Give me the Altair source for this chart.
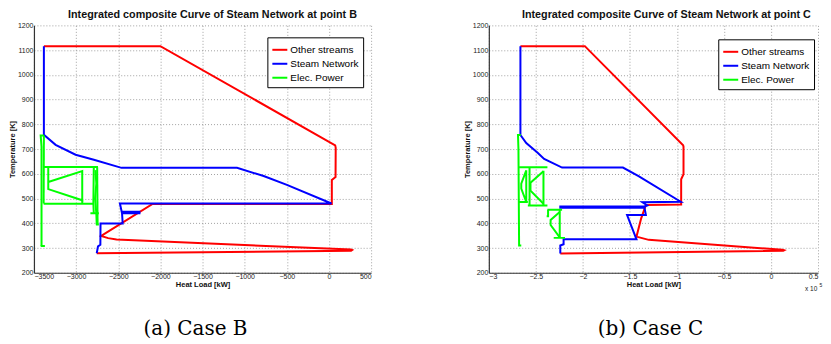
import altair as alt
import pandas as pd

SERIES = ["Other streams", "Steam Network", "Elec. Power"]
COLORS = ["#ff0000", "#0000ff", "#00ff00"]

# ---------------- Case B (Heat load in kW) ----------------
B_red_x = [-2755, 262, 275, 260, -2520, -2620, -2703, -2640, -2093, 34, 34, 78, 80, 74, -2000, -3382]
B_red_T = [279, 289, 292, 294, 334, 340, 349, 362, 478, 478, 575, 587, 705, 715, 1116, 1116]

B_blue_x = [-3382, -3382, -3243, -3006, -2789, -2461, -1091, -775, -499, 30, -2480, -2459, -2248, -2248,
            -2455, -2447, -2710, -2712, -2740, -2755]
B_blue_T = [1116, 758, 717, 677, 657, 624, 624, 591, 555, 480, 480, 447, 447, 441,
            441, 399, 399, 313, 307, 279]

B_green = [
    ([-3382, -3420, -3410, -3410], [755, 755, 710, 308]),
    ([-3420, -3370], [308, 308]),
    ([-3382, -3385], [755, 480]),
    ([-3385, -2740], [627, 627]),
    ([-3385, -2790], [479, 479]),
    ([-3330, -3330, -2927, -2927, -3330], [627, 538, 493, 611, 567]),
    ([-2927, -2927], [493, 479]),
    ([-2790, -2795, -2790], [627, 480, 441]),
    ([-2770, -2760, -2775, -2760, -2755], [615, 560, 500, 441, 395]),
    ([-2750, -2745], [627, 395]),
    ([-2830, -2730], [441, 441]),
    ([-2765, -2730], [395, 395]),
]

# ---------------- Case C (Heat load in x10^5 kW) ----------------
C_red_x = [-2.24, 0.13, 0.14, 0.12, -1.30, -1.43, -1.38, -1.33, -0.955, -0.955, -0.93, -0.93, -0.934, -1.979, -2.664]
C_red_T = [278, 289, 291, 293, 333, 346, 420, 474, 476, 578, 598, 710, 715, 1116, 1116]

C_blue_x = [-2.664, -2.664, -2.602, -2.481, -2.412, -2.221, -1.574, -1.408, -0.96, -1.367, -1.315, -1.345,
            -2.24, -2.24, -1.345, -1.33, -1.53, -1.43, -2.205, -2.205, -2.24, -2.24]
C_blue_T = [1116, 757, 724, 685, 660, 625, 625, 591, 487, 485, 472, 468,
            468, 463, 463, 433, 433, 335, 335, 315, 310, 278]

C_green = [
    ([-2.66, -2.69, -2.685, -2.678, -2.655], [757, 757, 700, 310, 310]),
    ([-2.678, -2.377], [626, 626]),
    ([-2.567, -2.567], [626, 472]),
    ([-2.602, -2.655, -2.655, -2.602, -2.602], [614, 560, 540, 486, 614]),
    ([-2.68, -2.585], [486, 486]),
    ([-2.419, -2.557, -2.557, -2.419], [610, 564, 532, 479]),
    ([-2.419, -2.419], [612, 472]),
    ([-2.585, -2.377], [472, 472]),
    ([-2.377, -2.221], [455, 455]),
    ([-2.37, -2.37, -2.385], [455, 428, 428]),
    ([-2.246, -2.246], [455, 341]),
    ([-2.246, -2.343, -2.343, -2.246], [446, 413, 393, 343]),
    ([-2.31, -2.19], [341, 341]),
]

B_ticks = list(range(-3500, 501, 500))
C_ticks = [-3, -2.5, -2, -1.5, -1, -0.5, 0, 0.5]
T_ticks = list(range(200, 1201, 100))

H = 248


def frame(segments, series):
    rows = []
    for s, (xs, ts) in enumerate(segments):
        for i, (x, t) in enumerate(zip(xs, ts)):
            rows.append({"x": x, "T": t, "seg": s, "ord": i, "series": series})
    return pd.DataFrame(rows)


def panel(title, tdx, red, blue, green, xdom, xticks, xfmt, width, lx, ly, capx, caption, exponent):
    legend = alt.Legend(orient="none", legendX=lx, legendY=ly, title=None,
                        symbolType="stroke", symbolStrokeWidth=2, symbolSize=225,
                        labelFont="Liberation Sans", labelFontSize=10, labelColor="black",
                        strokeColor="black", fillColor="white", padding=4, rowPadding=0,
                        labelOffset=2)
    xenc = alt.X("x:Q", scale=alt.Scale(domain=xdom, nice=False, zero=False),
                 axis=alt.Axis(values=xticks, format=xfmt, title="Heat Load [kW]",
                               labelPadding=0, titlePadding=1))
    yenc = alt.Y("T:Q", scale=alt.Scale(domain=[200, 1200], nice=False, zero=False),
                 axis=alt.Axis(values=T_ticks, format="d", title="Temperature [K]",
                               labelPadding=1, titlePadding=1))
    cenc = alt.Color("series:N", scale=alt.Scale(domain=SERIES, range=COLORS), legend=legend)

    def lines(df):
        return alt.Chart(df).mark_line(strokeWidth=2, clip=True).encode(
            x=xenc, y=yenc, color=cenc, detail="seg:N", order="ord:Q")

    layers = [lines(red), lines(blue), lines(green)]
    cap = alt.Chart(pd.DataFrame({"t": [caption]})).mark_text(
        font="DejaVu Serif", fontSize=20, align="center", baseline="alphabetic", color="black"
    ).encode(text="t:N", x=alt.value(capx), y=alt.value(H + 62))
    layers.append(cap)
    if exponent:
        e1 = alt.Chart(pd.DataFrame({"t": ["x 10"]})).mark_text(
            font="Liberation Sans", fontSize=6.5, align="left", baseline="alphabetic", color="#222"
        ).encode(text="t:N", x=alt.value(width - 13), y=alt.value(H + 18))
        e2 = alt.Chart(pd.DataFrame({"t": ["5"]})).mark_text(
            font="Liberation Sans", fontSize=5, align="left", baseline="alphabetic", color="#222"
        ).encode(text="t:N", x=alt.value(width + 1.5), y=alt.value(H + 14))
        layers += [e1, e2]
    return alt.layer(*layers).properties(
        width=width, height=H, title=alt.TitleParams(title, dx=tdx)
    )


red_b = frame([(B_red_x, B_red_T)], "Other streams")
blue_b = frame([(B_blue_x, B_blue_T)], "Steam Network")
green_b = frame(B_green, "Elec. Power")
red_c = frame([(C_red_x, C_red_T)], "Other streams")
blue_c = frame([(C_blue_x, C_blue_T)], "Steam Network")
green_c = frame(C_green, "Elec. Power")

left = panel("Integrated composite Curve of Steam Network at point B", 10, red_b, blue_b, green_b,
             [-3500, 500], B_ticks, "d", 338, 234, 12, 162, "(a) Case B", False)
right = panel("Integrated composite Curve of Steam Network at point C", 13, red_c, blue_c, green_c,
              [-3, 0.5], C_ticks, "~g", 330, 230, 14, 162, "(b) Case C", True)

chart = alt.hconcat(left, right, spacing=92).resolve_scale(color="independent").resolve_legend(
    color="independent"
).properties(
    padding={"left": 0, "top": 0, "right": 0, "bottom": 0}
).configure_view(strokeWidth=0).configure_axis(
    labelFont="Liberation Sans", labelFontSize=7, labelColor="#222",
    titleFont="Liberation Sans", titleFontSize=7.5, titleFontWeight="bold", titleColor="#111",
    grid=True, gridDash=[1, 2], gridColor="#8a8a8a", gridWidth=0.8,
    domainColor="#333", domainWidth=1.2, ticks=False, tickSize=0
).configure_title(
    font="Liberation Sans", fontSize=10.8, fontWeight="bold", color="#111", offset=2
)

chart.save("out.html", embed_options={"renderer": "svg", "actions": False})
